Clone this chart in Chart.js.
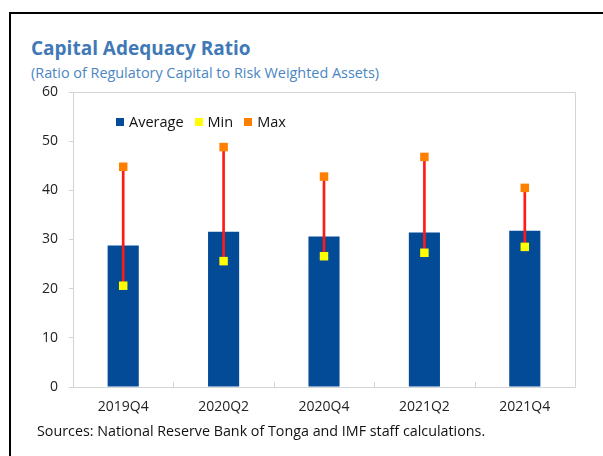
<!DOCTYPE html>
<html>
<head>
<meta charset="utf-8">
<script src="https://cdn.jsdelivr.net/npm/chart.js@4"></script>
<style>
    html, body { margin: 0; padding: 0; background: #fff; }
    #wrap { position: relative; width: 603px; height: 456px; overflow: hidden; font-family: 'Open Sans', sans-serif; }
    #frame-top { position: absolute; left: 9px; top: 12px; width: 594px; height: 2px; background: #000; }
    #frame-left { position: absolute; left: 9px; top: 12px; width: 2px; height: 444px; background: #000; }
    .txt { position: absolute; white-space: nowrap; line-height: 1; }
    #title { left: 31px; top: 39px; font-size: 19px; font-weight: 700; color: #4079b6; }
    #subtitle { left: 31px; top: 66px; font-size: 14.4px; color: #4a86c3; }
    #source { left: 37px; top: 424px; font-size: 14.3px; color: #111; }
    #legend { position: absolute; left: 116px; top: 114px; display: flex; font-size: 14.5px; color: #111; line-height: 16px; }
    .leg-item { display: flex; align-items: center; margin-right: 11px; }
    .leg-box { width: 8px; height: 8px; margin-right: 5px; }
    canvas { position: absolute; left: 0; top: 0; }
</style>
</head>
<body>
<div id="wrap">
    <div id="frame-top"></div>
    <div id="frame-left"></div>
    <div class="txt" id="title">Capital Adequacy Ratio</div>
    <div class="txt" id="subtitle">(Ratio of Regulatory Capital to Risk Weighted Assets)</div>
    <canvas id="car" width="603" height="456"></canvas>
    <div id="legend"></div>
    <div class="txt" id="source">Sources: National Reserve Bank of Tonga and IMF staff calculations.</div>
</div>
<script>
// Data
const quarters = ['2019Q4', '2020Q2', '2020Q4', '2021Q2', '2021Q4'];
const averageRatio = [28.8, 31.6, 30.6, 31.4, 31.8];
const minRatio = [20.6, 25.6, 26.6, 27.3, 28.5];
const maxRatio = [44.8, 48.8, 42.8, 46.8, 40.5];
const yTicks = [0, 10, 20, 30, 40, 50, 60];

const BLUE = '#034b97';
const YELLOW = '#ffff00';
const ORANGE = '#ff8000';
const RED = '#ff1a1a';
const AXIS_GREY = '#d4d4d4';

// min-max range drawn as a thin floating bar
const rangeData = quarters.map((q, i) => [minRatio[i], maxRatio[i]]);

// Plot box and the small upward ticks between categories
const plotFrame = {
    id: 'plotFrame',
    afterDatasetsDraw(chart) {
        const { ctx, chartArea: a, scales } = chart;
        ctx.save();
        ctx.strokeStyle = AXIS_GREY;
        ctx.lineWidth = 1;
        ctx.beginPath();
        ctx.moveTo(a.left, a.top + 0.5);
        ctx.lineTo(a.right + 0.5, a.top + 0.5);
        ctx.lineTo(a.right + 0.5, a.bottom);
        ctx.stroke();
        const x = scales.x;
        for (let i = 1; i < quarters.length; i++) {
            const px = Math.round((x.getPixelForValue(i - 1) + x.getPixelForValue(i)) / 2) + 0.5;
            ctx.beginPath();
            ctx.moveTo(px, a.bottom);
            ctx.lineTo(px, a.bottom - 5);
            ctx.stroke();
        }
        ctx.restore();
    }
};

const chart = new Chart(document.getElementById('car'), {
    type: 'bar',
    data: {
        labels: quarters,
        datasets: [
            {
                type: 'line',
                label: 'Max',
                data: maxRatio,
                showLine: false,
                pointStyle: 'rect',
                pointRadius: 6,
                pointBorderWidth: 0,
                backgroundColor: ORANGE,
                borderColor: ORANGE,
                order: 0
            },
            {
                type: 'line',
                label: 'Min',
                data: minRatio,
                showLine: false,
                pointStyle: 'rect',
                pointRadius: 6,
                pointBorderWidth: 0,
                backgroundColor: YELLOW,
                borderColor: YELLOW,
                order: 0
            },
            {
                label: 'Range',
                data: rangeData,
                backgroundColor: RED,
                barThickness: 2,
                grouped: false,
                order: 1
            },
            {
                label: 'Average',
                data: averageRatio,
                backgroundColor: BLUE,
                categoryPercentage: 1,
                barPercentage: 0.31,
                grouped: false,
                order: 2
            }
        ]
    },
    options: {
        responsive: false,
        animation: false,
        events: [],
        layout: { padding: { left: 0, top: 92, right: 28, bottom: 29 } },
        plugins: {
            legend: { display: false },
            tooltip: { enabled: false }
        },
        scales: {
            x: {
                offset: true,
                grid: { display: false, drawTicks: false },
                border: { color: AXIS_GREY },
                ticks: { color: '#222', font: { family: 'Open Sans', size: 14 }, padding: 12, maxRotation: 0 },
                afterFit: s => { s.height = 40; }
            },
            y: {
                min: 0,
                max: 60,
                afterBuildTicks: s => { s.ticks = yTicks.map(v => ({ value: v })); },
                grid: { drawOnChartArea: false, drawTicks: true, tickLength: 4, color: AXIS_GREY },
                border: { color: AXIS_GREY },
                ticks: { color: '#222', font: { family: 'Open Sans', size: 14 }, padding: 11 },
                afterFit: s => { s.width = 73; }
            }
        }
    },
    plugins: [plotFrame]
});

// Legend laid over the plot, built from the datasets
const legendOrder = ['Average', 'Min', 'Max'];
document.getElementById('legend').innerHTML = legendOrder.map(name => {
    const ds = chart.data.datasets.find(d => d.label === name);
    return `<div class="leg-item"><span class="leg-box" style="background:${ds.backgroundColor}"></span>${name}</div>`;
}).join('');
</script>
</body>
</html>
